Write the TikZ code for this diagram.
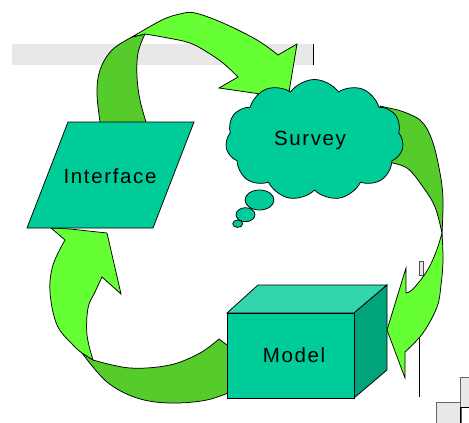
\documentclass[tikz,border=0pt]{standalone}
\usepackage{fontspec}
\usetikzlibrary{shapes.symbols}
\newfontfamily\labelfont[LetterSpace=8]{Liberation Sans}
\definecolor{lime}{HTML}{66FF33}
\definecolor{limedark}{HTML}{55CC2B}
\definecolor{teal}{HTML}{00CC99}
\definecolor{tealtop}{HTML}{33D6AA}
\definecolor{tealside}{HTML}{00A37A}
\definecolor{paper}{HTML}{E8E8E8}
\begin{document}
\begin{tikzpicture}[x=1pt,y=-1pt,
  outline/.style={draw=black,line width=0.75pt,line join=miter},
  ribbonfront/.style={outline,fill=lime},
  ribbonback/.style={outline,fill=limedark},
  solid shape/.style={outline,fill=teal},
  caption/.style={font=\labelfont\fontsize{20.5}{24}\selectfont,text=black,inner sep=0pt,anchor=base},
  bubble/.style={outline,fill=teal}]
\useasboundingbox (0,0) rectangle (469,423);

% faint background pieces
\fill[paper] (12,44) rectangle (313,65);
\draw[line width=1pt] (313,44) -- (313,65);
\draw[fill=paper,draw=black!70,line width=0.6pt] (419.3,261) rectangle (423.3,275);
\draw[line width=0.6pt] (419,338) -- (419,397);
\draw[fill=paper,draw=black!60,line width=0.6pt] (436,402) rectangle (461,424);
\draw[fill=paper,draw=black!60,line width=0.6pt] (460.5,377) rectangle (470,407);
\draw[line width=0.8pt] (460.5,407) -- (460.5,424);
\draw[line width=0.8pt] (460.5,407) -- (470,407);

% arrow: Interface -> Survey
\path[ribbonback] (100.5,126) -- plot[smooth,tension=0.6] coordinates {(100,122) (97,93) (100,70) (112,50) (132,37)}
  -- (145,34) -- plot[smooth,tension=0.6] coordinates {(145,34) (138,53) (137,77) (140,100) (146,122)} -- (147,126) -- cycle;
\path[ribbonfront] plot[smooth,tension=0.6] coordinates {(132,37) (162,20) (180,14) (195,13) (223,23) (257,40) (278,55)}
  -- (297,44) -- (288,98) -- (219,88) -- (238,77)
  -- plot[smooth,tension=0.6] coordinates {(238,77) (223,63) (207,52) (190,43) (168,38) (145,34)} -- cycle;

% arrow: Survey -> Model
\path[ribbonback] (380,106) -- plot[smooth,tension=0.6] coordinates {(398,110) (420,120) (432,140) (440,173) (443,200) (442,233)}
  -- plot[smooth,tension=0.6] coordinates {(442,233) (435,207) (423,187) (407,168) (387,162)} -- (376,160) -- cycle;
\path[ribbonfront] plot[smooth,tension=0.6] coordinates {(442,233) (443,260) (441,285) (437,307) (423,333) (405,352)}
  -- (405,378) -- (387,330) -- (406,268) -- (406,293)
  -- plot[smooth,tension=0.6] coordinates {(406,293) (413,289) (427,271) (436,252) (442,233)} -- cycle;

% arrow: Model -> Interface
\path[ribbonback] plot[smooth,tension=0.6] coordinates {(82,353) (107,382) (137,398) (170,403) (207,400) (235,390)}
  -- (235,351) -- (219,339)
  -- plot[smooth,tension=0.6] coordinates {(219,339) (200,353) (170,365) (130,368) (93,360)} -- cycle;
\path[ribbonfront] (51,228) -- (65,240)
  -- plot[smooth,tension=0.6] coordinates {(65,240) (53,265) (50,292) (57,325) (73,345) (82,353)}
  -- (93,360)
  -- plot[smooth,tension=0.6] coordinates {(93,360) (87,335) (88,308) (95,292) (102,277)}
  -- (121,294) -- (107,233) -- (70,229) -- cycle;

% Interface
\path[solid shape] (68,122) -- (194,122) -- (153,228) -- (27,228) -- cycle;
\node[caption] (interface) at (110,183.3) {Interface};

% Survey
\node[cloud,cloud puffs=11,cloud puff arc=110,aspect=1.45,solid shape,
  minimum width=178pt,minimum height=121pt,inner sep=0pt] (survey) at (314.5,140) {};
\node[caption] (surveytext) at (310,145.7) {Survey};
\path[bubble] (259.5,200) ellipse [x radius=14.5,y radius=10];
\path[bubble] (245.5,214.7) ellipse [x radius=9.5,y radius=7];
\path[bubble] (237.7,223.7) ellipse [x radius=5,y radius=3.7];

% Model
\path[outline,fill=tealtop] (227,313) -- (258,285) -- (387,285) -- (354,313) -- cycle;
\path[outline,fill=tealside] (354,313) -- (387,285) -- (387,370) -- (354,398) -- cycle;
\path[solid shape] (227,313) rectangle (354,398);
\node[caption] (model) at (294,362.7) {Model};
\end{tikzpicture}
\end{document}
